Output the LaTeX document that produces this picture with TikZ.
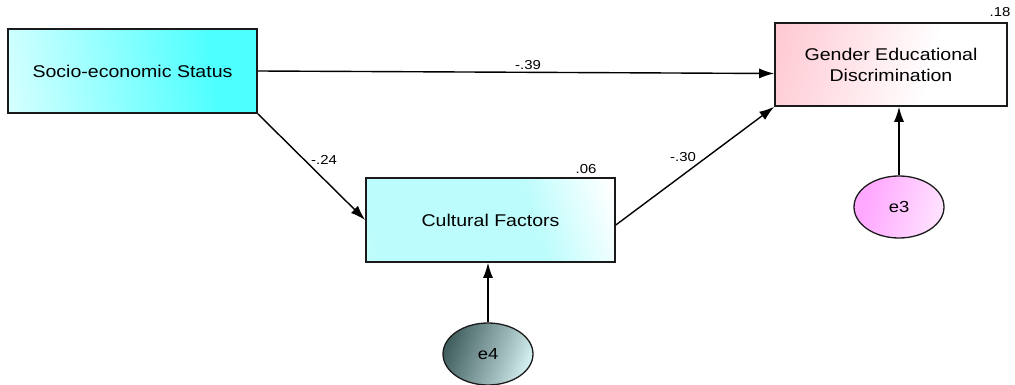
\documentclass[tikz,border=0pt]{standalone}
\usepackage{fontspec}
\setmainfont[FakeStretch=1.15]{Liberation Sans}
\usetikzlibrary{arrows.meta,shapes.geometric}
\definecolor{cyanA}{HTML}{4DFFFF}
\definecolor{cyanB}{HTML}{BDFCFC}
\definecolor{pinkA}{HTML}{FFBCC8}
\definecolor{tealD}{HTML}{425F5F}
\definecolor{tealL}{HTML}{E4FFFF}
\definecolor{violA}{HTML}{FFA8FF}
\definecolor{violL}{HTML}{FFE2FF}
\definecolor{edge}{HTML}{1A1A1A}
% fills of the boxes and error terms (0bp = left edge, 100bp = right edge)
\pgfdeclarehorizontalshading{sesfill}{100bp}{color(0bp)=(white); color(8bp)=(white); color(68bp)=(cyanA); color(100bp)=(cyanA)}
\pgfdeclarehorizontalshading{cffill}{100bp}{color(0bp)=(cyanB!55!white); color(22bp)=(cyanB); color(60bp)=(cyanB); color(80bp)=(white); color(100bp)=(white)}
\pgfdeclarehorizontalshading{gedfill}{100bp}{color(0bp)=(pinkA); color(18bp)=(pinkA!85!white); color(60bp)=(white); color(100bp)=(white)}
\pgfdeclarehorizontalshading{e4fill}{100bp}{color(0bp)=(tealD); color(25bp)=(tealD); color(60bp)=(tealL!60!tealD); color(80bp)=(tealL); color(100bp)=(tealL)}
\pgfdeclarehorizontalshading{e3fill}{100bp}{color(0bp)=(violA); color(30bp)=(violA); color(75bp)=(violL); color(100bp)=(violL)}
\tikzset{
  var/.style={draw=edge, line width=1.6pt, rectangle, minimum width=249pt,
    minimum height=84pt, inner sep=0pt, align=center, font=\fontsize{17}{21}\selectfont},
  err/.style={draw=edge, line width=1.3pt, ellipse, minimum width=90pt,
    minimum height=62pt, inner sep=0pt, font=\fontsize{16}{18}\selectfont},
  path/.style={draw=black, line width=1.4pt, -{Latex[length=15pt,width=10pt]}},
  coef/.style={font=\fontsize{13}{15}\selectfont, inner sep=0pt}
}
\begin{document}
\begin{tikzpicture}[x=1pt,y=-1pt]
\useasboundingbox (0,0) rectangle (1015,385);

% observed variables
\node[var, shading=sesfill, shading angle=8] (ses) at (132.5,71) {Socio-economic Status};
\node[var, minimum width=232pt, minimum height=83pt, shading=gedfill, shading angle=-15] (ged) at (891,64.5) {Gender Educational\\Discrimination};
\node[var, shading=cffill, shading angle=18] (cf) at (490.5,220) {Cultural Factors};

% error terms
\node[err, shading=e4fill, shading angle=-20] (e4) at (488,354) {e4};
\node[err, shading=e3fill, shading angle=-15] (e3) at (899,207) {e3};

% squared multiple correlations
\node[coef] (r2ged) at (1000,12) {.18};
\node[coef] (r2cf) at (586,169) {.06};

% regression paths
\draw[path] (ses.east) -- ([yshift=-9pt]ged.west);
\draw[path] (ses.south east) -- (cf.west);
\draw[path] ([yshift=-5pt]cf.east) -- (ged.south west);
\draw[path] (e4.north) -- (e4 |- cf.south);
\draw[path] (e3.north) -- (e3 |- ged.south);

% path coefficients
\node[coef] (b1) at (528,65) {-.39};
\node[coef] (b2) at (324,160) {-.24};
\node[coef] (b3) at (683,157) {-.30};
\end{tikzpicture}
\end{document}
